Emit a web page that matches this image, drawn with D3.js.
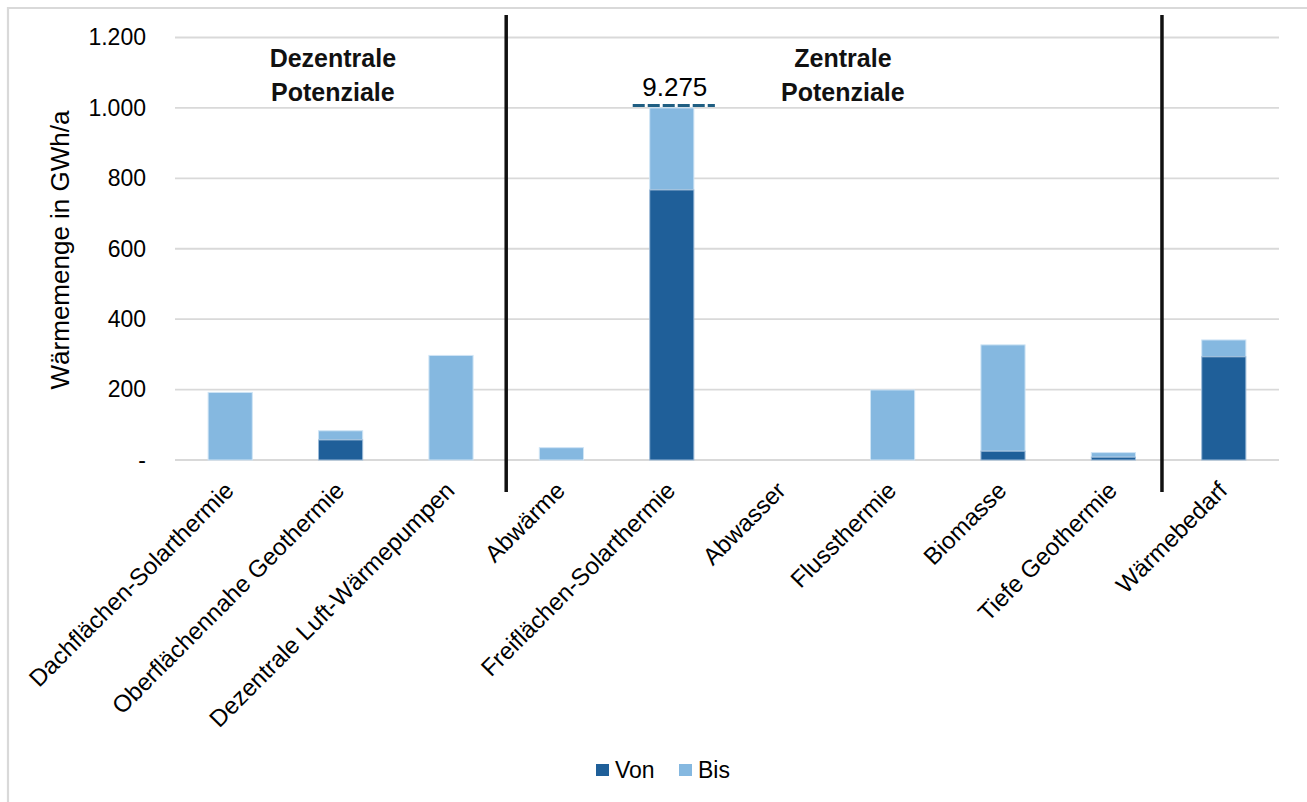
<!DOCTYPE html>
<html>
<head>
<meta charset="utf-8">
<script src="https://cdn.jsdelivr.net/npm/d3@7/dist/d3.min.js"></script>
<style>
  html, body { margin: 0; padding: 0; background: #fff; }
  svg { display: block; font-family: "Liberation Sans", Arial, sans-serif; }
</style>
</head>
<body>
<svg id="chart" width="1307" height="802"></svg>
<script>
// Heat potentials and demand in GWh/a
const categories = [
  "Dachflächen-Solarthermie",
  "Oberflächennahe Geothermie",
  "Dezentrale Luft-Wärmepumpen",
  "Abwärme",
  "Freiflächen-Solarthermie",
  "Abwasser",
  "Flussthermie",
  "Biomasse",
  "Tiefe Geothermie",
  "Wärmebedarf"
];
const von = [0, 57, 0, 0, 767, 0, 0, 25, 8, 293];
const bis = [192, 83, 297, 35, 9275, 0, 199, 327, 21, 341];

const yTicks = [0, 200, 400, 600, 800, 1000, 1200];
const yTickLabels = ["-", "200", "400", "600", "800", "1.000", "1.200"];

// values above this are cut off and marked with a broken-bar line
const displayCap = 1000;

// group separators, given as positions between categories (in category steps)
const groupDividers = [3, 8.94];
const groupTitles = [
  { lines: ["Dezentrale", "Potenziale"], at: 1.43 },
  { lines: ["Zentrale", "Potenziale"], at: 6.05 }
];

const seriesNames = ["Von", "Bis"];
const colors = { Von: "#1f5f99", Bis: "#85b8e0" };

const svg = d3.select("#chart");
const margin = { left: 175, right: 1279, top: 37.5, bottom: 460 };

const x = d3.scaleBand().domain(categories).range([margin.left, margin.right]).paddingInner(0.6).paddingOuter(0.3);
const y = d3.scaleLinear().domain([0, 1200]).range([margin.bottom, margin.top]);
const step = x.step();
const slot = d3.scaleLinear().domain([0, categories.length]).range([margin.left, margin.right]);

// outer frame (top and left edges)
svg.append("path")
  .attr("d", "M8,802 L8,8 L1307,8")
  .attr("fill", "none").attr("stroke", "#d9d9d9").attr("stroke-width", 2.2);

// gridlines
svg.append("g").selectAll("line").data(yTicks).join("line")
  .attr("x1", margin.left).attr("x2", margin.right)
  .attr("y1", d => y(d)).attr("y2", d => y(d))
  .attr("stroke", "#d9d9d9").attr("stroke-width", 1.8);

// y axis labels
const yAxis = d3.axisLeft(y).tickValues(yTicks).tickSize(0).tickPadding(0)
  .tickFormat((d, i) => yTickLabels[i]);
const gy = svg.append("g").attr("transform", `translate(${146},0)`).call(yAxis);
gy.select(".domain").remove();
gy.selectAll("text").attr("font-size", 23).attr("fill", "#000")
  .attr("font-family", "'Liberation Sans', Arial, sans-serif");

svg.append("text")
  .attr("transform", `translate(69,250) rotate(-90)`)
  .attr("text-anchor", "middle")
  .attr("font-size", 26).attr("fill", "#000")
  .text("Wärmemenge in GWh/a");

// bars: Von from zero, Bis stacked up to its upper value
const rows = categories.map((c, i) => ({ c, von: von[i], bis: bis[i] }));
const bw = step * 0.4;
const gBars = svg.append("g");
rows.forEach(r => {
  const cx = x(r.c) + x.bandwidth() / 2;
  const top = Math.min(r.bis, displayCap);
  if (r.bis > r.von) {
    gBars.append("rect")
      .attr("x", cx - bw / 2).attr("width", bw)
      .attr("y", y(top)).attr("height", y(r.von) - y(top))
      .attr("fill", colors.Bis).attr("stroke", "#cfe4f5").attr("stroke-width", 1);
  }
  if (r.von > 0) {
    gBars.append("rect")
      .attr("x", cx - bw / 2).attr("width", bw)
      .attr("y", y(r.von)).attr("height", y(0) - y(r.von))
      .attr("fill", colors.Von).attr("stroke", "#9dbbd8").attr("stroke-width", 1);
  }
});

// broken-bar marker and value label for bars above the cap
rows.filter(r => r.bis > displayCap).forEach(r => {
  const cx = x(r.c) + x.bandwidth() / 2;
  svg.append("line")
    .attr("x1", cx - bw / 2 - 17).attr("x2", cx + bw / 2 + 21)
    .attr("y1", y(displayCap) - 2.3).attr("y2", y(displayCap) - 2.3)
    .attr("stroke", "#1f5e82").attr("stroke-width", 3)
    .attr("stroke-dasharray", "12,3");
  svg.append("text")
    .attr("x", cx + 3).attr("y", y(displayCap) - 12)
    .attr("text-anchor", "middle").attr("font-size", 26).attr("fill", "#000")
    .text(d3.format(",")(r.bis).replace(/,/g, "."));
});

// group dividers
svg.append("g").selectAll("line").data(groupDividers).join("line")
  .attr("x1", d => slot(d)).attr("x2", d => slot(d))
  .attr("y1", 15).attr("y2", 492)
  .attr("stroke", "#111").attr("stroke-width", 3.5);

// group titles
groupTitles.forEach(g => {
  const t = svg.append("text")
    .attr("text-anchor", "middle")
    .attr("font-weight", "bold").attr("font-size", 25).attr("fill", "#111");
  g.lines.forEach((ln, k) => {
    t.append("tspan").attr("x", slot(g.at)).attr("y", 66.5 + k * 34).text(ln);
  });
});

// category labels, rotated
svg.append("g").selectAll("text").data(categories).join("text")
  .attr("transform", d => `translate(${x(d) + x.bandwidth() / 2 + 5},492) rotate(-45)`)
  .attr("text-anchor", "end")
  .attr("font-size", 24).attr("fill", "#000")
  .text(d => d);

// legend
const legend = svg.append("g");
const legendX = [596, 679];
seriesNames.forEach((s, i) => {
  legend.append("rect").attr("x", legendX[i]).attr("y", 764)
    .attr("width", 13).attr("height", 12).attr("fill", colors[s]);
  legend.append("text").attr("x", legendX[i] + 19).attr("y", 778)
    .attr("font-size", 23).attr("fill", "#000").text(s);
});
</script>
</body>
</html>
